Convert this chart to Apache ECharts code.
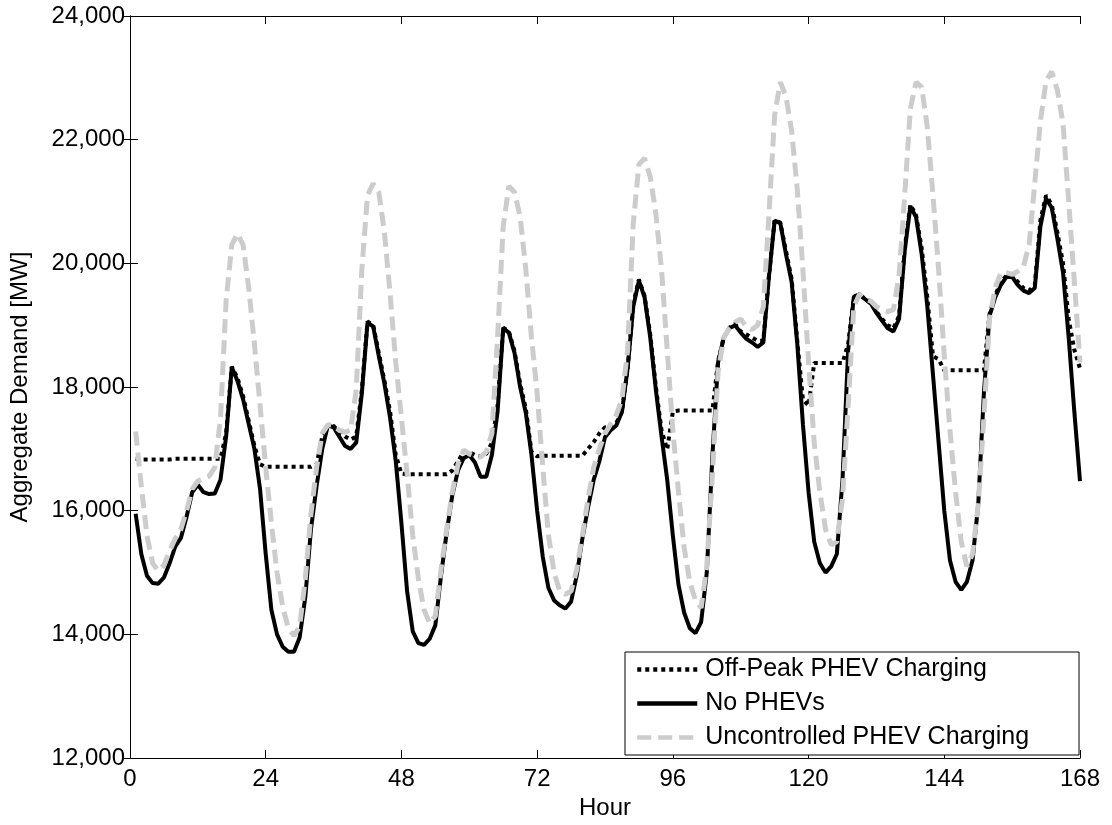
<!DOCTYPE html>
<html>
<head>
<meta charset="utf-8">
<script src="https://cdn.jsdelivr.net/npm/echarts@6/dist/echarts.min.js"></script>
<style>html,body{margin:0;padding:0;background:#fff}#c{width:1112px;height:825px}</style>
</head>
<body>
<div id="c"></div>
<script>
// Hour index (x positions 1..168)
const HOURS = Array.from({length: 168}, (_, i) => i + 1);
const X_TICKS = [0, 24, 48, 72, 96, 120, 144, 168];
const Y_TICKS = [12000, 14000, 16000, 18000, 20000, 22000, 24000];
const SERIES_NAMES = ['Off-Peak PHEV Charging', 'No PHEVs', 'Uncontrolled PHEV Charging'];

const OFF_PEAK = [
  16840,16830,16830,16830,16830,16830,16830,16840,16840,16840,16840,16840,16840,16840,16840,16840,
  17250,18330,18150,17850,17450,17050,16750,16710,
  16710,16710,16710,16710,16710,16710,16710,16710,
  16750,17200,17390,17370,17280,17200,17150,17200,17950,19060,19000,18550,18100,17600,16900,16600,
  16590,16590,16590,16590,16590,16590,16590,16590,
  16650,16800,16950,16950,16900,16880,16920,17100,17700,18960,18900,18580,18050,17650,16950,16880,
  16890,16890,16890,16890,16890,16890,16890,16890,
  17000,17110,17250,17350,17350,17420,17600,18300,19350,19740,19470,18850,18000,17300,16990,17600,
  17620,17620,17620,17620,17620,17620,17620,
  18420,18800,18960,19020,18900,18850,18800,18750,18750,19800,20700,20660,20200,19750,18750,17800,17700,
  18390,18390,18390,18390,18390,18390,
  18700,19460,19500,19420,19370,19220,19100,19000,18950,19150,20250,20950,20780,20250,19450,18500,18450,18270,
  18270,18270,18270,18270,18270,18270,18270,
  19180,19480,19700,19800,19800,19700,19600,19560,19650,20700,21100,20950,20500,20000,19100,18600,18300
];

const NO_PHEV = [
  15950,15300,14950,14830,14820,14920,15150,15420,15560,15900,16300,16420,16300,16270,16280,16500,17200,18320,18100,17800,17400,17000,16350,15300,
  14400,14000,13800,13720,13720,13950,14600,15700,16400,17000,17380,17350,17200,17050,17000,17100,17900,19040,18980,18500,18050,17500,16800,15800,
  14700,14050,13860,13830,13930,14150,14950,15650,16250,16650,16850,16900,16780,16550,16550,16900,17600,18950,18880,18550,18000,17580,16900,16000,
  15250,14750,14550,14470,14420,14530,14950,15550,16050,16500,16800,17190,17300,17380,17600,18300,19300,19720,19450,18800,17950,17200,16500,15600,
  14800,14350,14100,14020,14200,15000,16900,18400,18800,18950,19000,18880,18780,18720,18650,18720,19800,20690,20650,20150,19700,18700,17400,16300,
  15500,15150,15000,15100,15300,16500,18600,19450,19500,19420,19350,19200,19070,18950,18900,19100,20200,20920,20750,20150,19300,18200,17100,16000,
  15200,14850,14720,14850,15200,16100,17900,19150,19450,19650,19780,19780,19650,19560,19520,19600,20600,21050,20900,20400,19850,18800,17600,16480
];

const UNCONTROLLED = [
  17280,16400,15600,15150,15030,15120,15350,15550,15700,16000,16350,16480,16520,16560,16700,17500,19400,20300,20480,20300,19600,18700,17700,16700,
  15800,15000,14450,14100,13980,14130,14900,15950,16700,17250,17390,17380,17300,17270,17300,17950,19900,21100,21290,21150,20500,19500,18400,17500,
  16600,15600,14900,14400,14180,14300,15050,15700,16300,16750,16980,16920,16880,16870,16950,17250,18800,20600,21250,21150,20750,19900,18800,17900,
  16700,15600,15000,14700,14650,14700,15050,15600,16200,16700,17000,17250,17400,17550,17800,18600,20650,21600,21700,21400,20800,19900,18600,17300,
  16300,15400,14850,14550,14430,15100,16600,18250,18800,18950,19050,19100,18970,18930,19000,19300,20800,22400,22930,22700,22150,21200,19900,18400,
  17100,16300,15700,15450,15500,16200,17700,19300,19500,19420,19390,19300,19250,19220,19250,19800,21100,22500,22930,22850,22200,21100,19900,18500,
  17300,16300,15500,15100,15300,16100,17500,19100,19600,19850,19850,19820,19870,19950,20300,21300,22300,22950,23100,22800,22260,21000,19700,18400
];

const FONT = "'Liberation Sans', Arial, Helvetica, sans-serif";
const pair = arr => HOURS.map((h, i) => [h, arr[i]]);

const chart = echarts.init(document.getElementById('c'), null, {renderer: 'canvas'});

const axisCommon = {
  axisLine: {show: true, lineStyle: {color: '#000', width: 1}},
  axisTick: {show: true, inside: true, length: 8, lineStyle: {color: '#000', width: 1}},
  splitLine: {show: false}
};

chart.setOption({
  animation: false,
  backgroundColor: '#fff',
  grid: {left: 130, right: 32, top: 16, bottom: 63, containLabel: false},
  xAxis: [
    Object.assign({
      type: 'value', min: X_TICKS[0], max: X_TICKS[X_TICKS.length - 1], interval: 24, position: 'bottom',
      axisLabel: {color: '#000', fontSize: 24, fontFamily: FONT, margin: 9, showMaxLabel: true, showMinLabel: true},
      name: 'Hour', nameLocation: 'middle', nameGap: 35,
      nameTextStyle: {color: '#000', fontSize: 24, fontFamily: FONT}
    }, axisCommon),
    Object.assign({
      type: 'value', min: X_TICKS[0], max: X_TICKS[X_TICKS.length - 1], interval: 24, position: 'top',
      axisLabel: {show: false}
    }, axisCommon)
  ],
  yAxis: [
    Object.assign({
      type: 'value', min: Y_TICKS[0], max: Y_TICKS[Y_TICKS.length - 1], interval: 2000, position: 'left',
      axisLabel: {color: '#000', fontSize: 24, fontFamily: FONT, margin: 5,
        formatter: v => v.toLocaleString('en-US')},
      name: 'Aggregate Demand [MW]', nameLocation: 'middle', nameGap: 98,
      nameTextStyle: {color: '#000', fontSize: 24, fontFamily: FONT}
    }, axisCommon),
    Object.assign({
      type: 'value', min: Y_TICKS[0], max: Y_TICKS[Y_TICKS.length - 1], interval: 2000, position: 'right',
      axisLabel: {show: false}
    }, axisCommon)
  ],
  legend: {
    orient: 'vertical', left: 625, top: 652,
    itemWidth: 60, itemHeight: 14, itemGap: 9,
    padding: [5, 50, 5, 10],
    borderColor: '#000', borderWidth: 1, backgroundColor: '#fff',
    itemStyle: {color: 'rgba(0,0,0,0)', borderWidth: 0, opacity: 0},
    lineStyle: {width: 4.5},
    textStyle: {color: '#000', fontSize: 25, fontFamily: FONT, padding: [0, 0, 0, 3]},
    data: SERIES_NAMES
  },
  series: [
    {name: SERIES_NAMES[0], type: 'line', data: pair(OFF_PEAK), symbol: 'none',
     itemStyle: {color: '#000'}, lineStyle: {color: '#000', width: 4, type: [4, 4]}},
    {name: SERIES_NAMES[1], type: 'line', data: pair(NO_PHEV), symbol: 'none',
     itemStyle: {color: '#000'}, lineStyle: {color: '#000', width: 4, type: 'solid'}},
    {name: SERIES_NAMES[2], type: 'line', data: pair(UNCONTROLLED), symbol: 'none',
     itemStyle: {color: '#cccccc'}, lineStyle: {color: '#cccccc', width: 5, type: [14, 7]}}
  ]
});
</script>
</body>
</html>
